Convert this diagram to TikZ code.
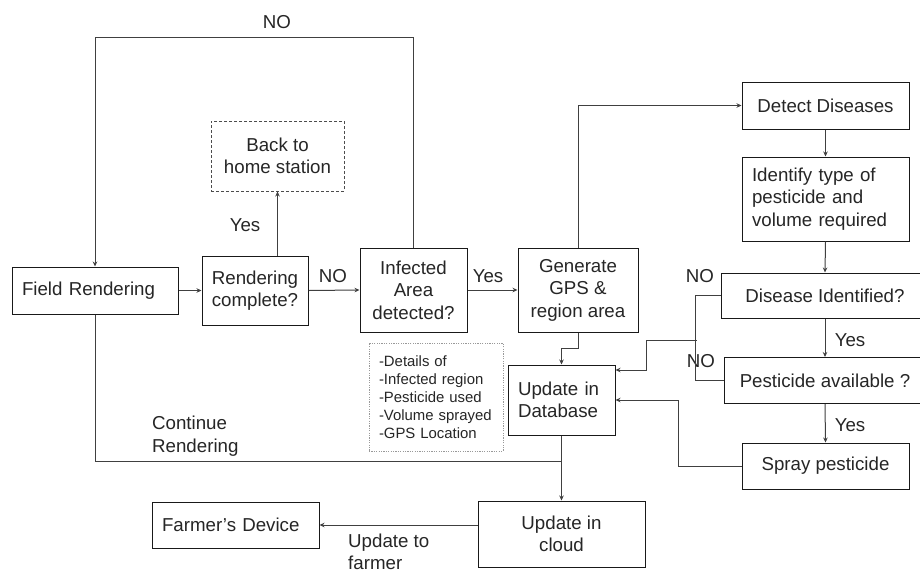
\documentclass[tikz,border=0pt]{standalone}
\usepackage{fontspec}
\setmainfont{Liberation Sans}
\usetikzlibrary{arrows.meta,calc}
\begin{document}
\begin{tikzpicture}[x=1pt,y=-1pt,
  every node/.style={font=\fontsize{18.7}{22.5}\selectfont, text=black!85},
  box/.style={draw=black!90, line width=1pt, inner sep=0pt, align=center},
  lbox/.style={draw=black!90, line width=1pt, inner ysep=0pt, inner xsep=10pt, align=left},
  conn/.style={draw=black!75, line width=1pt},
  arr/.style={conn, -{Stealth[length=5pt,width=4.5pt]}},
  lbl/.style={inner sep=0pt}]
\useasboundingbox[fill=white] (0,0) rectangle (920,574);

% boxes
\node[lbox, text width=146pt, minimum height=47pt] (field) at (95,290.5) {Field Rendering};
\node[box, minimum width=106pt, minimum height=69pt] (rend) at (255,290.5) {Rendering\\complete?};
\node[box, draw=black!70, dash pattern=on 3pt off 2pt, minimum width=133pt, minimum height=70pt] (back) at (277.5,156) {Back to\\home station};
\node[box, minimum width=107pt, minimum height=84pt] (infected) at (413.5,290) {Infected\\Area\\detected?};
\node[box, minimum width=120pt, minimum height=84pt] (gps) at (578,290) {Generate\\GPS \&\\region area};
\node[box, minimum width=167pt, minimum height=47pt] (detect) at (825.5,105.5) {Detect Diseases};
\node[lbox, text width=147pt, minimum height=84pt] (identify) at (825.5,199) {Identify type of\\pesticide and\\volume required};
\node[box, minimum width=208pt, minimum height=45pt] (disid) at (825,295.5) {Disease Identified?};
\node[box, minimum width=202pt, minimum height=46pt] (pestav) at (825,380.5) {Pesticide available ?};
\node[box, minimum width=167pt, minimum height=46pt] (spray) at (825.5,466) {Spray pesticide};
\node[lbox, text width=87pt, minimum height=70pt] (db) at (561.5,400) {Update in\\Database};
\node[box, minimum width=167pt, minimum height=66pt] (cloud) at (561.5,534) {Update in\\cloud};
\node[lbox, text width=147pt, minimum height=46pt] (farmer) at (235.5,525) {Farmer’s Device};
\node[lbox, draw=black!40, dash pattern=on 1.2pt off 1.2pt, line width=0.8pt, text width=114pt, minimum height=108pt, font=\fontsize{14.9}{18}\selectfont] (notes) at (436,397) {-Details of\\-Infected region\\-Pesticide used\\-Volume sprayed\\-GPS Location};

% labels
\node[lbl] (noTop) at (277,22) {NO};
\node[lbl] (yesBack) at (245,225) {Yes};
\node[lbl] (noRend) at (333,276) {NO};
\node[lbl] (yesInf) at (488,276) {Yes};
\node[lbl] (noDis) at (700,276) {NO};
\node[lbl] (noPest) at (701,361) {NO};
\node[lbl] (yesDis) at (850,340) {Yes};
\node[lbl] (yesPest) at (850,425) {Yes};
\node[lbl, anchor=west, align=left] (cont) at (152,436) {Continue\\Rendering};
\node[lbl, anchor=west, align=left] (upf) at (348,552) {Update to\\farmer};

% connectors
\coordinate (topline) at (0,37);
\draw[arr] (field.east) -- (rend.west);
\draw[arr] (back.south |- rend.north) -- (back.south);
\draw[arr] (rend.east) -- (infected.west);
\draw[arr] (infected.north) -- (infected.north |- topline) -| (field.north);
\draw[arr] (infected.east) -- (gps.west);
\draw[arr] (gps.north) |- (detect.west);
\draw[arr] (detect.south) -- (identify.north);
\draw[arr] (identify.south) -- (disid.north);
\draw[arr] (disid.south) -- (pestav.north);
\draw[arr] (pestav.south) -- (spray.north);
\draw[conn] (disid.west) -- ++(-25,0) coordinate (nocol) |- (pestav.west);
\coordinate (nojoin) at ($(nocol)+(1,44.5)$);
\draw[arr] (nojoin) -- ++(-50,0) |- ([yshift=30pt]db.east);
\draw[arr] (spray.west) -- ++(-63,0) |- (db.east);
\draw[arr] (gps.south) -- ++(0,16) -| (db.north);
\draw[arr] (db.south) -- (cloud.north);
\draw[conn] (field.south) |- ([yshift=-26pt]db.south);
\draw[arr] (cloud.west |- farmer.east) -- (farmer.east);
\end{tikzpicture}
\end{document}
